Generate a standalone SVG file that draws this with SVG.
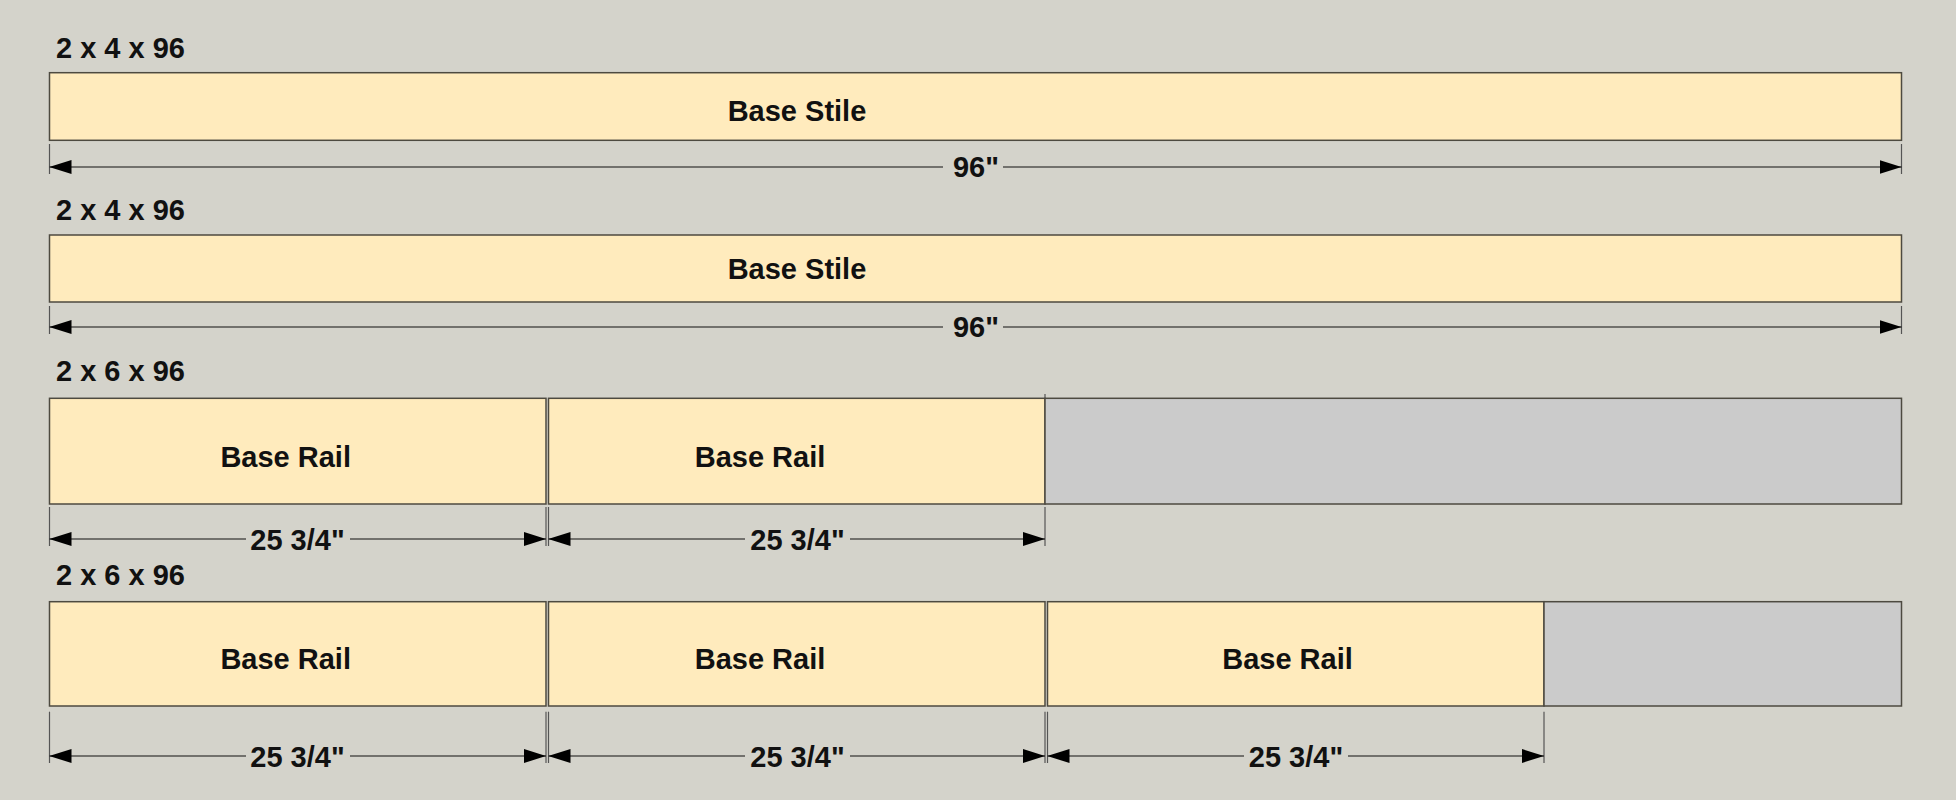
<svg xmlns="http://www.w3.org/2000/svg" width="1956" height="800" viewBox="0 0 1956 800">
  <style>
    .board { fill: #ffebbd; stroke: #4d4a40; stroke-width: 1.5; }
    .waste { fill: #cbcbcb; stroke: #4d4a40; stroke-width: 1.5; }
    .lbl { font-family: "Liberation Sans", Arial, sans-serif; font-weight: bold; font-size: 29px; fill: #111; }
    .mid { text-anchor: middle; }
    .dim { fill: none; stroke: #111; stroke-width: 1.2; marker-start: url(#arr); marker-end: url(#arr); }
    .tick { stroke: #555; stroke-width: 1.2; }
  </style>
  <defs>
    <marker id="arr" markerUnits="userSpaceOnUse" viewBox="0 0 22 14" refX="22" refY="7" markerWidth="22" markerHeight="14" orient="auto-start-reverse">
      <path d="M0,0 L22,7 L0,14 Z" fill="#000"/>
    </marker>
  </defs>
  <rect x="0" y="0" width="1956" height="800" fill="#d4d3cb"/>

  <!-- Row 1 -->
  <g id="row1">
    <text class="lbl" x="56" y="58">2 x 4 x 96</text>
    <g id="stile1">
      <rect class="board" x="49.5" y="72.7" width="1852" height="67.6"/>
      <text class="lbl mid" x="797" y="121">Base Stile</text>
    </g>
  </g>

  <!-- Row 2 -->
  <g id="row2">
    <text class="lbl" x="56" y="220">2 x 4 x 96</text>
    <g id="stile2">
      <rect class="board" x="49.5" y="235" width="1852" height="67"/>
      <text class="lbl mid" x="797" y="278.5">Base Stile</text>
    </g>
  </g>

  <!-- Row 3 -->
  <g id="row3">
    <text class="lbl" x="56" y="381">2 x 6 x 96</text>
    <g id="rail3a">
      <rect class="board" x="49.5" y="398.3" width="496.5" height="105.7"/>
      <text class="lbl mid" x="285.7" y="467.3">Base Rail</text>
    </g>
    <g id="rail3b">
      <rect class="board" x="548.5" y="398.3" width="496.5" height="105.7"/>
      <text class="lbl mid" x="760" y="467.3">Base Rail</text>
    </g>
    <g id="waste3">
      <rect class="waste" x="1045" y="398.3" width="856.5" height="105.7"/>
    </g>
  </g>

  <!-- Row 4 -->
  <g id="row4">
    <text class="lbl" x="56" y="585">2 x 6 x 96</text>
    <g id="rail4a">
      <rect class="board" x="49.5" y="601.7" width="496.5" height="104.3"/>
      <text class="lbl mid" x="285.7" y="669.3">Base Rail</text>
    </g>
    <g id="rail4b">
      <rect class="board" x="548.5" y="601.7" width="496.5" height="104.3"/>
      <text class="lbl mid" x="760" y="669.3">Base Rail</text>
    </g>
    <g id="rail4c">
      <rect class="board" x="1047.5" y="601.7" width="496.5" height="104.3"/>
      <text class="lbl mid" x="1287.5" y="669.3">Base Rail</text>
    </g>
    <g id="waste4">
      <rect class="waste" x="1544" y="601.7" width="357.5" height="104.3"/>
    </g>
  </g>

  <!-- Dimension connectors -->
  <g id="connectors">
    <!-- ticks -->
    <line class="tick" x1="49.5" y1="144" x2="49.5" y2="174"/>
    <line class="tick" x1="1901.5" y1="144" x2="1901.5" y2="174"/>
    <line class="tick" x1="49.5" y1="306" x2="49.5" y2="334"/>
    <line class="tick" x1="1901.5" y1="306" x2="1901.5" y2="334"/>

    <line class="tick" x1="49.5" y1="507" x2="49.5" y2="546"/>
    <line class="tick" x1="546" y1="507" x2="546" y2="546"/>
    <line class="tick" x1="548.5" y1="507" x2="548.5" y2="546"/>
    <line class="tick" x1="1045" y1="507" x2="1045" y2="546"/>
    <line class="tick" x1="1045" y1="394" x2="1045" y2="398"/>

    <line class="tick" x1="49.5" y1="711.7" x2="49.5" y2="763"/>
    <line class="tick" x1="546" y1="711.7" x2="546" y2="763"/>
    <line class="tick" x1="548.5" y1="711.7" x2="548.5" y2="763"/>
    <line class="tick" x1="1045" y1="711.7" x2="1045" y2="763"/>
    <line class="tick" x1="1047.5" y1="711.7" x2="1047.5" y2="763"/>
    <line class="tick" x1="1544" y1="711.7" x2="1544" y2="763"/>

    <!-- dimension lines -->
    <path class="dim" d="M49.5,167 L943,167 M1003,167 L1901.5,167"/>
    <text class="lbl mid" x="976" y="177">96"</text>

    <path class="dim" d="M49.5,327 L943,327 M1003,327 L1901.5,327"/>
    <text class="lbl mid" x="976" y="337">96"</text>

    <path class="dim" d="M49.5,539 L246,539 M350,539 L546,539"/>
    <text class="lbl mid" x="297.5" y="550">25 3/4"</text>
    <path class="dim" d="M548.5,539 L745,539 M850,539 L1045,539"/>
    <text class="lbl mid" x="797.5" y="550">25 3/4"</text>

    <path class="dim" d="M49.5,756 L246,756 M350,756 L546,756"/>
    <text class="lbl mid" x="297.5" y="766.7">25 3/4"</text>
    <path class="dim" d="M548.5,756 L745,756 M850,756 L1045,756"/>
    <text class="lbl mid" x="797.5" y="766.7">25 3/4"</text>
    <path class="dim" d="M1047.5,756 L1244,756 M1348,756 L1544,756"/>
    <text class="lbl mid" x="1296" y="766.7">25 3/4"</text>
  </g>
</svg>
